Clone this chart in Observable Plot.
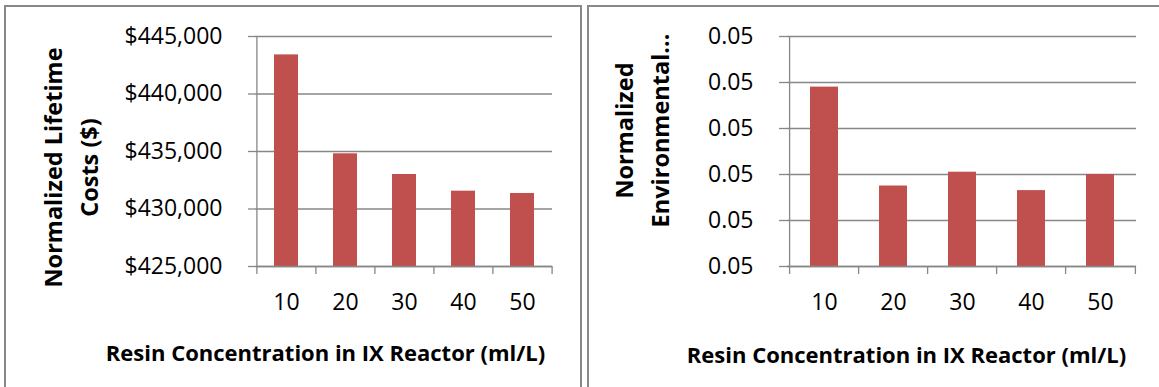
<!DOCTYPE html>
<html>
<head>
<meta charset="utf-8">
<script src="https://cdn.jsdelivr.net/npm/d3@7"></script>
<script src="https://cdn.jsdelivr.net/npm/@observablehq/plot@0.6"></script>
<style>
  html, body { margin: 0; padding: 0; background: #fff; }
  #page { position: relative; width: 1159px; height: 387px; overflow: hidden; background: #fff; }
  .panel { position: absolute; border: 2px solid #898989; box-sizing: border-box; }
  .chart { position: absolute; top: 0; }
</style>
</head>
<body>
<div id="page">
  <div class="panel" style="left:4px; top:5px; width:578px; height:420px;"></div>
  <div class="panel" style="left:587px; top:5px; width:620px; height:420px;"></div>
</div>
<script>
// Resin concentration categories (ml/L)
const categories = ["10", "20", "30", "40", "50"];

// Normalized lifetime costs ($)
const lifetimeCosts = [443400, 434800, 433000, 431550, 431350];
const costTicks = [425000, 430000, 435000, 440000, 445000];

// Normalized environmental impact
const envImpact = [0.05038, 0.04995, 0.05001, 0.04993, 0.05000];
const envTicks = [0.0496, 0.0498, 0.0500, 0.0502, 0.0504, 0.0506];

const xTitle = "Resin Concentration in IX Reactor (ml/L)";
const costTitle = "Normalized Lifetime\nCosts ($)";
const envTitle = "Normalized\nEnvironmental...";

const gray = "#878787";
const barColor = "#c0504d";

function barPanel(o) {
  const data = categories.map((c, i) => ({c, v: o.values[i]}));
  const step = (o.width - o.marginLeft - o.marginRight) / categories.length;
  return Plot.plot({
    width: o.width,
    height: 387,
    marginLeft: o.marginLeft,
    marginRight: o.marginRight,
    marginTop: 36,
    marginBottom: 121,
    style: {
      fontFamily: "'Open Sans', sans-serif",
      fontSize: "23px",
      background: "transparent",
      color: "#000",
      overflow: "visible"
    },
    x: {domain: categories, paddingInner: 0.6, paddingOuter: 0.3, label: null},
    y: {domain: [o.ticks[0], o.ticks[o.ticks.length - 1]], label: null},
    marks: [
      // horizontal gridlines behind the bars
      Plot.gridY(o.ticks, {stroke: gray, strokeOpacity: 1, strokeWidth: 1.3}),
      // vertical value axis line at the left edge of the first category
      Plot.gridX(categories.slice(0, 1), {dx: -step / 2, stroke: gray, strokeOpacity: 1, strokeWidth: 1.3}),
      Plot.barY(data, {x: "c", y: "v", fill: barColor, clip: true}),
      // category axis line
      Plot.ruleY(o.ticks.slice(0, 1), {stroke: gray, strokeWidth: 1.3}),
      // value axis: outward ticks, then labels
      Plot.axisY({ticks: o.ticks, tickSize: 8, tickFormat: () => "", stroke: gray, strokeWidth: 1.3, label: null}),
      Plot.axisY({ticks: o.ticks, tickSize: 0, tickPadding: 34, tickFormat: o.format, fontSize: 23, label: null}),
      // category axis: ticks between categories, then labels
      Plot.axisX({ticks: categories, tickSize: 8, tickFormat: () => "", dx: -step / 2, stroke: gray, strokeWidth: 1.3, label: null}),
      Plot.axisX({ticks: categories.slice(-1), tickSize: 8, tickFormat: () => "", dx: step / 2, stroke: gray, strokeWidth: 1.3, label: null}),
      Plot.axisX({ticks: categories, tickSize: 0, tickPadding: 27, fontSize: 23, label: null}),
      // axis titles
      Plot.text([o.yTitle], {
        text: d => d, frameAnchor: "left", dx: o.yTitleDx, dy: o.yTitleDy,
        rotate: -90, textAnchor: "middle", lineAnchor: "middle",
        lineHeight: 1.55, fontSize: 23.5, fontWeight: "bold"
      }),
      Plot.text([xTitle], {
        text: d => d, frameAnchor: "bottom", dx: o.xTitleDx, dy: o.xTitleDy,
        textAnchor: "middle", lineAnchor: "middle", fontSize: 22, fontWeight: "bold"
      })
    ]
  });
}

const costChart = barPanel({
  values: lifetimeCosts,
  ticks: costTicks,
  format: d3.format("$,.0f"),
  width: 586, marginLeft: 256, marginRight: 34,
  yTitle: costTitle, yTitleDx: -188, yTitleDy: 16,
  xTitleDx: -79, xTitleDy: 87
});

const envChart = barPanel({
  values: envImpact,
  ticks: envTicks,
  format: d3.format(".2f"),
  width: 569, marginLeft: 197, marginRight: 23,
  yTitle: envTitle, yTitleDx: -148, yTitleDy: -21,
  xTitleDx: -55.5, xTitleDy: 89
});

const page = document.getElementById("page");
costChart.classList.add("chart");
costChart.style.left = "0px";
envChart.classList.add("chart");
envChart.style.left = "590px";
page.appendChild(costChart);
page.appendChild(envChart);
</script>
</body>
</html>
